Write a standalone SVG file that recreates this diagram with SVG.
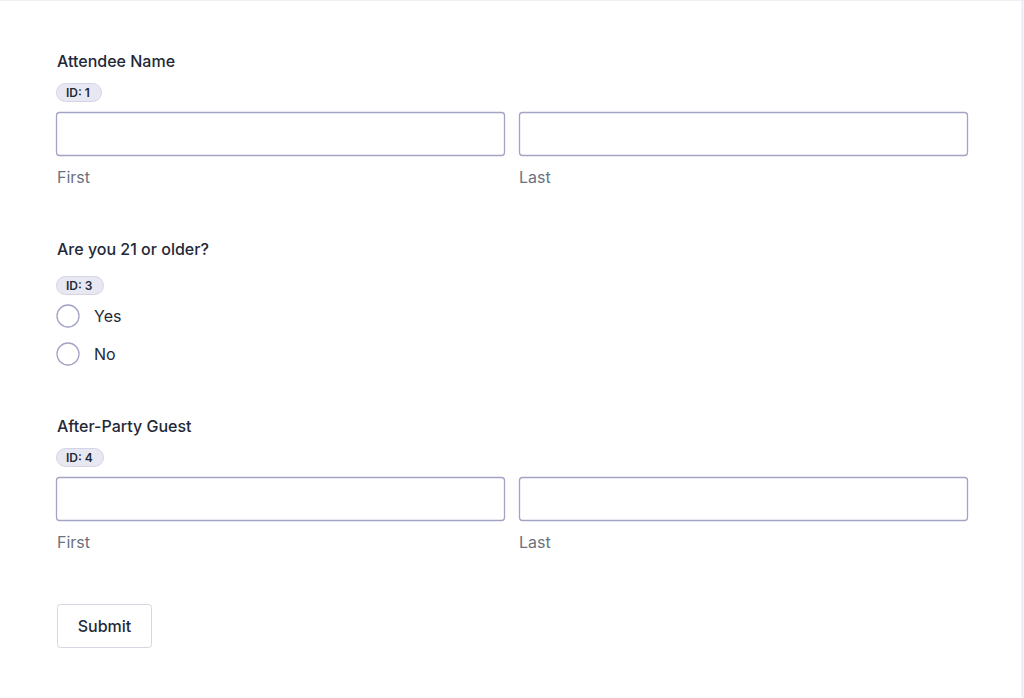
<svg xmlns="http://www.w3.org/2000/svg" width="1024" height="698" viewBox="0 0 1024 698">
<style>
.lbl{font-family:Inter,"Liberation Sans",sans-serif;font-size:16px;font-weight:500;fill:#1f2937}
.sub{font-family:Inter,"Liberation Sans",sans-serif;font-size:16px;fill:#6b7280}
.opt{font-family:Inter,"Liberation Sans",sans-serif;font-size:16px;fill:#1f2937}
.pill{fill:#e8e8f3;stroke:#d4d4e6;stroke-width:1}
.pt{font-family:Inter,"Liberation Sans",sans-serif;font-size:12px;font-weight:600;fill:#1f2937}
.inp{fill:#fff;stroke:#a3a3c6;stroke-width:1.3}
.rad{fill:#fff;stroke:#a3a3c6;stroke-width:1.3}
</style>
<rect width="1024" height="698" fill="#fff"/>
<line x1="0" y1="0.5" x2="1024" y2="0.5" stroke="#f0f0f4"/>
<line x1="1022.5" y1="0" x2="1022.5" y2="698" stroke="#ececf4" stroke-width="2"/>
<g id="attendee">
<text class="lbl" x="57" y="67">Attendee Name</text>
<rect class="pill" x="56.500" y="83.500" width="45" height="18" rx="9"/>
<text class="pt" x="66" y="97">ID: 1</text>
<rect class="inp" x="56.500" y="112.500" width="448" height="43" rx="3"/>
<rect class="inp" x="519.500" y="112.500" width="448" height="43" rx="3"/>
<text class="sub" x="57" y="183">First</text>
<text class="sub" x="519" y="183">Last</text>
</g>
<g id="age">
<text class="lbl" x="57" y="255">Are you 21 or older?</text>
<rect class="pill" x="56.500" y="276.500" width="47" height="18" rx="9"/>
<text class="pt" x="66" y="290">ID: 3</text>
<circle class="rad" cx="68" cy="316" r="11"/>
<text class="opt" x="94" y="322">Yes</text>
<circle class="rad" cx="68" cy="354" r="11"/>
<text class="opt" x="94" y="360">No</text>
</g>
<g id="guest">
<text class="lbl" x="57" y="432">After-Party Guest</text>
<rect class="pill" x="56.500" y="448.500" width="47" height="18" rx="9"/>
<text class="pt" x="66" y="462">ID: 4</text>
<rect class="inp" x="56.500" y="477.500" width="448" height="43" rx="3"/>
<rect class="inp" x="519.500" y="477.500" width="448" height="43" rx="3"/>
<text class="sub" x="57" y="548">First</text>
<text class="sub" x="519" y="548">Last</text>
</g>
<g id="submit">
<rect x="57.500" y="604.500" width="94" height="43" rx="3" fill="#fff" stroke="#d6d6e0"/>
<text class="lbl" x="104.500" y="632" text-anchor="middle">Submit</text>
</g>
<g id="connectors"/>
</svg>
